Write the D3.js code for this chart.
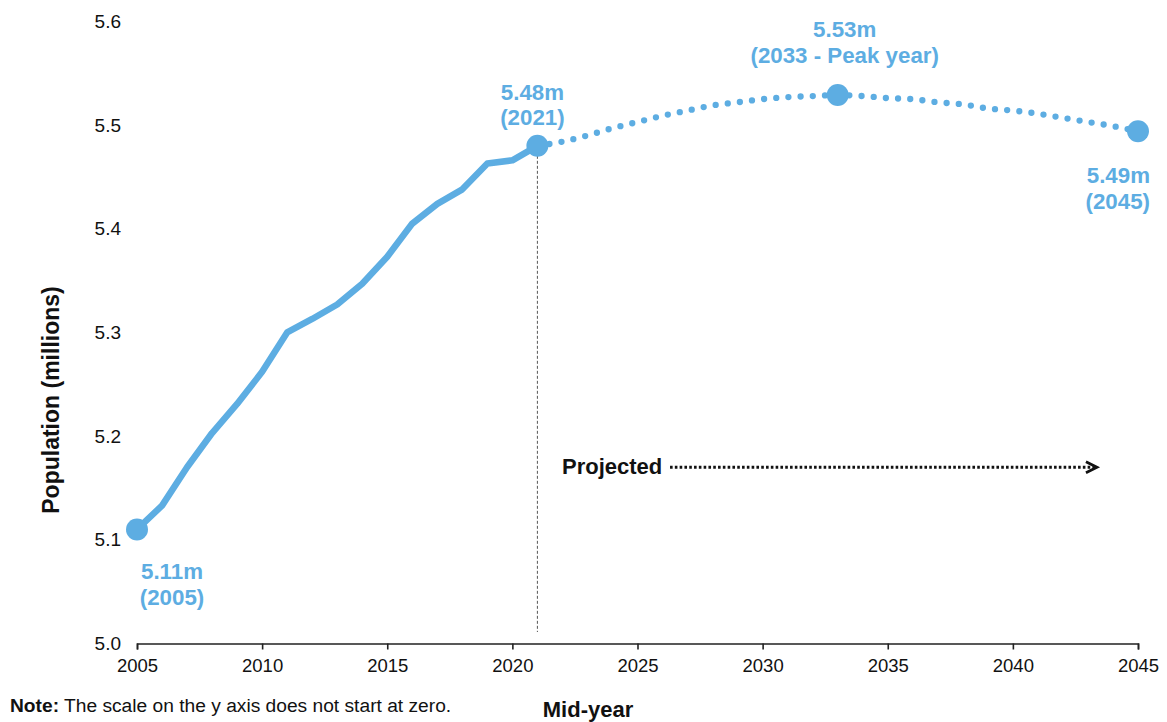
<!DOCTYPE html>
<html>
<head>
<meta charset="utf-8">
<script src="https://cdn.jsdelivr.net/npm/d3@7"></script>
<style>
  html, body { margin: 0; padding: 0; background: #fff; }
  svg { display: block; font-family: "Liberation Sans", Arial, sans-serif; }
</style>
</head>
<body>
<svg id="chart" width="1167" height="722"></svg>
<script>
// ---- Data ----
const estimateYears  = [2005,2006,2007,2008,2009,2010,2011,2012,2013,2014,2015,2016,2017,2018,2019,2020,2021];
const estimateValues = [5.110,5.133,5.170,5.203,5.231,5.262,5.300,5.313,5.327,5.347,5.373,5.405,5.424,5.438,5.463,5.466,5.480];

const projectedYears  = [2021,2022,2023,2024,2025,2026,2027,2028,2029,2030,2031,2032,2033,2034,2035,2036,2037,2038,2039,2040,2041,2042,2043,2044,2045];
const projectedValues = [5.480,5.484,5.490,5.497,5.503,5.509,5.514,5.519,5.522,5.525,5.527,5.528,5.529,5.528,5.526,5.525,5.522,5.520,5.516,5.514,5.511,5.507,5.503,5.499,5.494];

const xTicks = [2005,2010,2015,2020,2025,2030,2035,2040,2045];
const yTicks = [5.0,5.1,5.2,5.3,5.4,5.5,5.6];

const keyYears   = [2005, 2021, 2033, 2045];
const keyValues  = [5.11, 5.48, 5.53, 5.49];
const keyLine1   = ["5.11m", "5.48m", "5.53m", "5.49m"];
const keyLine2   = ["(2005)", "(2021)", "(2033 - Peak year)", "(2045)"];

const projectionStartYear = 2021;
const arrowFromYear = 2026.3;
const arrowToYear = 2043.2;
const arrowValue = 5.170;

// ---- Layout ----
const blue = "#5dade2";
const svg = d3.select("#chart");
const x = d3.scaleLinear().domain([2005, 2045]).range([137, 1138]);
const y = d3.scaleLinear().domain([5.0, 5.6]).range([643.5, 21.4]);

// X axis
const xAxis = svg.append("g")
  .attr("transform", `translate(0,${y(5.0)})`)
  .call(d3.axisBottom(x).tickValues(xTicks).tickFormat(d3.format("d"))
        .tickSize(6).tickSizeOuter(6).tickPadding(9));
xAxis.select(".domain").attr("stroke", "#222").attr("stroke-width", 1.6);
xAxis.selectAll(".tick line").attr("stroke", "#222").attr("stroke-width", 1.6);
xAxis.selectAll(".tick text").attr("font-size", 18.5).attr("fill", "#111")
  .attr("font-family", "Liberation Sans, Arial, sans-serif");

// Y axis (labels only)
const yAxis = svg.append("g")
  .attr("transform", `translate(${x(2005)},0)`)
  .call(d3.axisLeft(y).tickValues(yTicks).tickFormat(d3.format(".1f"))
        .tickSize(0).tickPadding(16));
yAxis.select(".domain").remove();
yAxis.selectAll(".tick text").attr("font-size", 19).attr("fill", "#111")
  .attr("font-family", "Liberation Sans, Arial, sans-serif");

// Vertical dashed line at projection start
svg.append("line")
  .attr("x1", x(projectionStartYear)).attr("x2", x(projectionStartYear))
  .attr("y1", y(estimateValues[estimateValues.length - 1])).attr("y2", 632)
  .attr("stroke", "#555").attr("stroke-width", 1).attr("stroke-dasharray", "3,2");

// Estimate line
const line = d3.line().x(d => x(d[0])).y(d => y(d[1]));
svg.append("path")
  .datum(estimateYears.map((yr, i) => [yr, estimateValues[i]]))
  .attr("d", line)
  .attr("fill", "none").attr("stroke", blue).attr("stroke-width", 6.5)
  .attr("stroke-linejoin", "round").attr("stroke-linecap", "round");

// Projected dotted line
const curveLine = d3.line().x(d => x(d[0])).y(d => y(d[1])).curve(d3.curveMonotoneX);
svg.append("path")
  .datum(projectedYears.map((yr, i) => [yr, projectedValues[i]]))
  .attr("d", curveLine)
  .attr("fill", "none").attr("stroke", blue).attr("stroke-width", 6.3)
  .attr("stroke-linecap", "round").attr("stroke-dasharray", "0,12.2");

// Key markers
function keyY(yr, i) {
  if (i === 0) return estimateValues[0];
  if (i === 1) return estimateValues[estimateValues.length - 1];
  return projectedValues[projectedYears.indexOf(yr)];
}
svg.selectAll("circle.key")
  .data(keyYears.map((yr, i) => ({ yr, v: keyY(yr, i) })))
  .enter().append("circle")
  .attr("class", "key")
  .attr("cx", d => x(d.yr))
  .attr("cy", d => y(d.v))
  .attr("r", 11)
  .attr("fill", blue);

// Key labels (positions relative to marker)
const labelOffsets = [
  { dx: 35,  dy1: 50,  anchor: "middle" },
  { dx: -5,  dy1: -46, anchor: "middle" },
  { dx: 7,   dy1: -58, anchor: "middle" },
  { dx: 12,  dy1: 52,  anchor: "end" }
];
keyYears.forEach((yr, i) => {
  const cx = x(yr);
  const cy = y(keyY(yr, i));
  const o = labelOffsets[i];
  const t = svg.append("text")
    .attr("text-anchor", o.anchor)
    .attr("font-size", 22.3).attr("font-weight", "bold").attr("fill", blue);
  t.append("tspan").attr("x", cx + o.dx).attr("y", cy + o.dy1).text(keyLine1[i]);
  t.append("tspan").attr("x", cx + o.dx).attr("y", cy + o.dy1 + 25.5).text(keyLine2[i]);
});

// Projected arrow
const ay = y(arrowValue);
svg.append("text")
  .attr("x", 562).attr("y", ay + 7)
  .attr("font-size", 22).attr("font-weight", "bold").attr("fill", "#111")
  .text("Projected");
svg.append("line")
  .attr("x1", x(arrowFromYear)).attr("x2", x(arrowToYear) + 2)
  .attr("y1", ay).attr("y2", ay)
  .attr("stroke", "#111").attr("stroke-width", 3).attr("stroke-dasharray", "2.6,2.2");
svg.append("path")
  .attr("d", `M${x(arrowToYear) - 7},${ay - 5.5} L${x(arrowToYear) + 4},${ay} L${x(arrowToYear) - 7},${ay + 5.5}`)
  .attr("fill", "none").attr("stroke", "#111").attr("stroke-width", 2.8);

// Axis titles
svg.append("text")
  .attr("transform", "translate(59,400) rotate(-90)")
  .attr("text-anchor", "middle")
  .attr("font-size", 23).attr("font-weight", "bold").attr("fill", "#111")
  .text("Population (millions)");

svg.append("text")
  .attr("x", 588).attr("y", 716.5)
  .attr("text-anchor", "middle")
  .attr("font-size", 22).attr("font-weight", "bold").attr("fill", "#111")
  .text("Mid-year");

// Note
const note = svg.append("text")
  .attr("x", 10).attr("y", 712)
  .attr("font-size", 19.2).attr("fill", "#111");
note.append("tspan").attr("font-weight", "bold").text("Note:");
note.append("tspan").text(" The scale on the y axis does not start at zero.");
</script>
</body>
</html>
